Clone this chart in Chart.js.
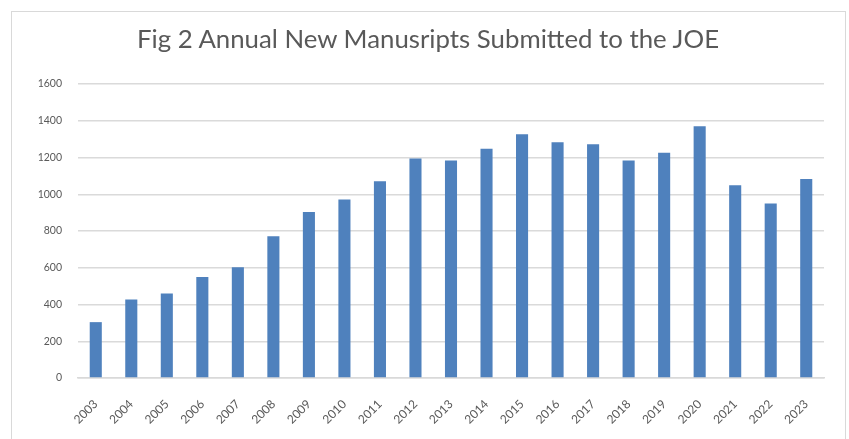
<!DOCTYPE html>
<html>
<head>
<meta charset="utf-8">
<script src="https://cdn.jsdelivr.net/npm/chart.js@4"></script>
<style>
  html, body { margin: 0; padding: 0; background: #fff; overflow: hidden; }
  #frame { position: absolute; left: 11px; top: 11px; width: 835px; height: 440px; border: 1px solid #d9d9d9; box-sizing: border-box; }
  #chart { position: absolute; left: 0; top: 0; }
  h1 {
    position: absolute; left: 0; top: 23px; width: 856px; margin: 0;
    text-align: center; font: normal 25.8px/30px Lato, "Liberation Sans", sans-serif; color: #595959;
  }
</style>
</head>
<body>
<div id="frame"></div>
<canvas id="chart" width="849" height="439"></canvas>
<h1>Fig 2 Annual New Manusripts Submitted to the JOE</h1>
<script>
const years = ['2003', '2004', '2005', '2006', '2007', '2008', '2009', '2010', '2011', '2012', '2013',
  '2014', '2015', '2016', '2017', '2018', '2019', '2020', '2021', '2022', '2023'];
const submissions = [304, 427, 460, 549, 603, 772, 904, 971, 1071, 1194, 1183,
  1248, 1326, 1283, 1272, 1183, 1226, 1370, 1049, 949, 1083];
const yTicks = [0, 200, 400, 600, 800, 1000, 1200, 1400, 1600];

const FONT = 'Lato, "Liberation Sans", sans-serif';
const GREY = '#595959';

new Chart(document.getElementById('chart'), {
  type: 'bar',
  data: {
    labels: years,
    datasets: [{
      label: 'Submissions',
      data: submissions,
      backgroundColor: '#4f81bd',
      barPercentage: 0.34,
      categoryPercentage: 1
    }]
  },
  options: {
    responsive: false,
    animation: false,
    layout: { padding: { left: 0, right: 25, top: 84, bottom: 0 } },
    plugins: {
      legend: { display: false },
      tooltip: { enabled: false },
      title: { display: false }
    },
    scales: {
      x: {
        grid: { display: false },
        border: { color: '#d9d9d9', width: 1.5 },
        ticks: {
          color: GREY,
          font: { family: FONT, size: 12 },
          maxRotation: 45,
          minRotation: 45,
          padding: 11,
          autoSkip: false
        },
        afterFit: (s) => { s.height = 61; }
      },
      y: {
        min: 0,
        max: 1600,
        afterBuildTicks: (s) => { s.ticks = yTicks.map((v) => ({ value: v })); },
        grid: { color: '#dadada', lineWidth: 1.5, drawTicks: false },
        border: { display: false },
        ticks: {
          color: GREY,
          font: { family: FONT, size: 10.5 },
          padding: 16,
          callback: (v) => String(v)
        },
        afterFit: (s) => { s.width = 78; }
      }
    }
  }
});
</script>
</body>
</html>
